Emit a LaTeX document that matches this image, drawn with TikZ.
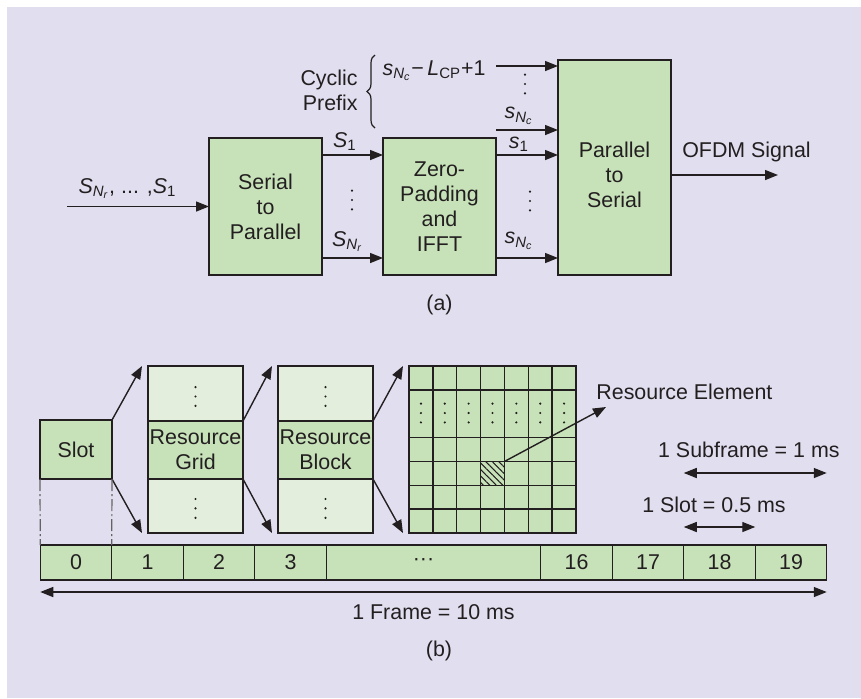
\documentclass[tikz,border=0pt]{standalone}
\usepackage{amsmath}
\usepackage{fontspec}
\setmainfont{Liberation Sans}
\usetikzlibrary{arrows.meta, positioning, calc, decorations.pathreplacing, patterns.meta}
\definecolor{bglav}{RGB}{225, 222, 239}
\definecolor{boxgreen}{RGB}{199, 226, 185}
\definecolor{boxpale}{RGB}{227, 238, 220}
\definecolor{inkgray}{RGB}{35, 31, 32}
\newcommand{\vi}[1]{\textit{#1}}

\begin{document}
\begin{tikzpicture}[
    x=0.5pt, y=-0.5pt,
    every node/.style={font=\fontsize{10.7}{12.5}\selectfont, text=inkgray},
    box/.style={rectangle, draw=inkgray, fill=#1, line width=0.7pt, inner sep=0.5pt, outer sep=0pt, align=center},
    box/.default=boxgreen,
    tcell/.style={box, minimum width=35.75pt, minimum height=17.5pt},
    arr/.style={-{Triangle[length=6.5pt, width=5pt]}, line width=0.7pt, draw=inkgray},
    darr/.style={{Triangle[length=6.5pt, width=5pt]}-{Triangle[length=6.5pt, width=5pt]}, line width=0.7pt, draw=inkgray},
    gridln/.style={line width=0.7pt, draw=inkgray},
    dashln/.style={line width=0.6pt, draw=inkgray!70, dash pattern=on 6pt off 1.5pt on 1pt off 1.5pt},
    lab/.style={inner sep=1pt},
    vdts/.pic={\foreach \d in {-1,0,1} \fill[inkgray] (0,\d*4.7pt) circle (0.6pt);}
]
\useasboundingbox (0,0) rectangle (861,698);
\fill[bglav] (7,7) rectangle (861,698);

% (a) transmitter chain
\node[box, minimum width=56.5pt, minimum height=68.5pt] (sp) at (265.5,206.5) {Serial\\to\\Parallel};
\node[box, minimum width=56.5pt, minimum height=68.5pt] (zp) at (439.5,206.5) {Zero-\\Padding\\and\\IFFT};
\node[box, minimum width=56.5pt, minimum height=107.5pt] (ps) at (614.5,167.5) {};
\node[inner sep=0pt, align=center] (pstxt) at (614.5,175) {Parallel\\to\\Serial};

\coordinate (in) at (67,206.5);
\draw[arr] (in) -- (sp.west);
\node[lab, anchor=base] (lin) at (127.5,193) {$\vi{S}_{\vi{N}_{\vi{r}}}$, ... ,$\vi{S}_{\text{1}}$};

% serial to parallel outputs
\coordinate (s1a) at ([yshift=-8.5pt]sp.north east);
\coordinate (sna) at ([yshift=8.5pt]sp.south east);
\draw[arr] (s1a) -- (s1a -| zp.west) node[lab, midway, above=1pt, xshift=-3.75pt] (ls1) {$\vi{S}_{\text{1}}$};
\draw[arr] (sna) -- (sna -| zp.west) node[lab, midway, above=2pt, xshift=-2.5pt] (lsn) {$\vi{S}_{\vi{N}_{\vi{r}}}$};
\pic at (352,200) {vdts};

% cyclic prefix and IFFT outputs
\coordinate (cp0) at (496,66);
\coordinate (cp1) at (496,130);
\coordinate (z1) at ([yshift=-8.5pt]zp.north east);
\coordinate (zn) at ([yshift=8.5pt]zp.south east);
\draw[arr] (cp0) -- (cp0 -| ps.west);
\node[lab, anchor=base east] (lcpl) at ([shift={(-4pt,-4.5pt)}]cp0) {$\vi{s}_{\vi{N}_{\vi{c}}}$−\,$\vi{L}_{\text{CP}}$+1};
\draw[arr] (cp1) -- (cp1 -| ps.west) node[lab, midway, above=1.5pt, xshift=-4pt] (lcp1) {$\vi{s}_{\vi{N}_{\vi{c}}}$};
\draw[arr] (z1) -- (z1 -| ps.west) node[lab, midway, above=0.5pt, xshift=-4pt] (lz1) {$\vi{s}_{\text{1}}$};
\draw[arr] (zn) -- (zn -| ps.west) node[lab, midway, above=3pt, xshift=-4pt] (lzn) {$\vi{s}_{\vi{N}_{\vi{c}}}$};
\pic at (525,84) {vdts};
\pic at (530,201) {vdts};

\coordinate (brb) at (375,128);
\coordinate (brt) at (375,55);
\draw[decorate, decoration={brace, amplitude=4pt}, line width=0.6pt, draw=inkgray] (brb) -- (brt);
\node[anchor=east, align=right, inner sep=0pt] (lcyc) at (358,90) {Cyclic\\Prefix};

\coordinate (out) at (778,175);
\draw[arr] (out -| ps.east) -- (out);
\node[anchor=base] (lofdm) at (746.5,157) {OFDM Signal};
\node (capa) at (439.5,305) {(a)};

% (b) frame structure
\node[box, minimum width=36pt, minimum height=29.5pt] (slot) at (76,449.5) {Slot};

\node[box, minimum width=47.5pt, minimum height=29pt] (rgmid) at (195.5,450) {Resource\\Grid};
\node[box=boxpale, minimum width=47.5pt, minimum height=27.5pt, above=0pt of rgmid] (rgtop) {};
\node[box=boxpale, minimum width=47.5pt, minimum height=27pt, below=0pt of rgmid] (rgbot) {};
\node[box, minimum width=47.5pt, minimum height=29pt] (rbmid) at (325.5,450) {Resource\\Block};
\node[box=boxpale, minimum width=47.5pt, minimum height=27.5pt, above=0pt of rbmid] (rbtop) {};
\node[box=boxpale, minimum width=47.5pt, minimum height=27pt, below=0pt of rbmid] (rbbot) {};
\pic at ([yshift=-1.5pt]rgtop.center) {vdts};
\pic at ([yshift=-1.2pt]rgbot.center) {vdts};
\pic at ([yshift=-1.5pt]rbtop.center) {vdts};
\pic at ([yshift=-1.2pt]rbbot.center) {vdts};

% resource element grid
\node[box, minimum width=83.5pt, minimum height=83.5pt] (reg) at (492.5,449.5) {};
\foreach \k in {1,...,6}
  \draw[gridln] ($(reg.north west)!\k/7!(reg.north east)$) -- ($(reg.south west)!\k/7!(reg.south east)$);
\foreach \k in {1,3,4,5,6}
  \draw[gridln] ($(reg.north west)!\k/7!(reg.south west)$) -- ($(reg.north east)!\k/7!(reg.south east)$);
\foreach \k in {0,...,6}
  \pic at ({409+(\k+0.5)*23.857},413) {vdts};
\node[draw=inkgray, line width=0.7pt, minimum size=11.93pt, inner sep=0pt, outer sep=0pt,
      pattern={Lines[angle=-45, distance=2.3pt, line width=0.5pt]}, pattern color=inkgray] (re) at (492.5,473.4) {};
\node[anchor=base west, inner sep=0pt] (relab) at (596,399) {Resource Element};
\draw[arr] (re.north east) -- ([shift={(5pt,-4pt)}]relab.base west);

% zoom-in arrows
\draw[arr] (slot.north east) -- ([xshift=-3pt]rgtop.north west);
\draw[arr] (slot.south east) -- ([xshift=-3pt]rgbot.south west);
\draw[arr] (rgmid.north east) -- ([xshift=-3pt]rbtop.north west);
\draw[arr] (rgmid.south east) -- ([xshift=-3pt]rbbot.south west);
\draw[arr] (rbmid.north east) -- ([xshift=-3pt]reg.north west);
\draw[arr] (rbmid.south east) -- ([xshift=-3pt]reg.south west);

% time line of 20 slots
\node[tcell] (t0) at (76,562.5) {0};
\foreach \i [remember=\i as \p (initially 0)] in {1,2,3}
  \node[tcell, right=0pt of t\p] (t\i) {\i};
\node[tcell, minimum width=107.25pt, right=0pt of t3] (tdots) {···\hspace{10pt}};
\node[tcell, right=0pt of tdots] (t16) {16};
\foreach \i [remember=\i as \p (initially 16)] in {17,18,19}
  \node[tcell, right=0pt of t\p] (t\i) {\i};

\draw[dashln] (slot.south west) -- (t0.north west);
\draw[dashln] (slot.south east) -- (t0.north east);

\draw[darr] ([yshift=36pt]t18.north west) -- ([yshift=36pt]t19.north east)
  node[pos=0.5, anchor=base, xshift=-3.2pt, yshift=8pt] (lsub) {1 Subframe = 1 ms};
\draw[darr] ([yshift=9pt]t18.north west) -- ([yshift=9pt]t18.north east)
  node[pos=0.5, anchor=base, xshift=-2.75pt, yshift=7.5pt] (lslot) {1 Slot = 0.5 ms};
\draw[darr] ([yshift=-6pt]t0.south west) -- ([yshift=-6pt]t19.south east)
  node[pos=0.5, anchor=base, yshift=-13.5pt] (lframe) {1 Frame = 10 ms};
\node (capb) at (439,651) {(b)};

\end{tikzpicture}
\end{document}
